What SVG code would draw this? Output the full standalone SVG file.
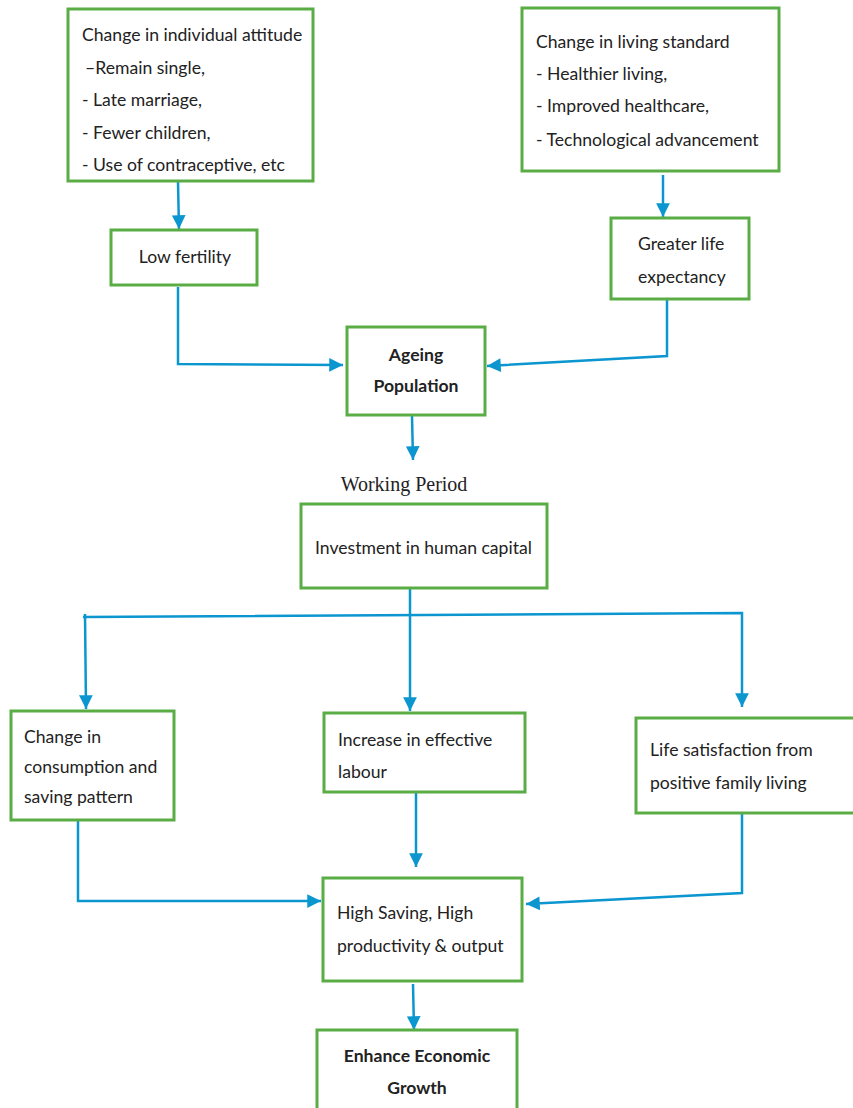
<svg xmlns="http://www.w3.org/2000/svg" width="853" height="1108" viewBox="0 0 853 1108">
<defs>
<style>
.box{fill:#fff;stroke:#5aad45;stroke-width:3}
.t{font-family:Lato,"Liberation Sans",sans-serif;font-size:17.6px;fill:#222}
.b{font-weight:bold}
.w{font-family:"Liberation Serif",serif;font-size:20px;fill:#222}
.c{fill:none;stroke:#0b96d0;stroke-width:2.5}
</style>
<marker id="ah" viewBox="0 0 10 10" refX="10" refY="5" markerWidth="6" markerHeight="5.5" markerUnits="strokeWidth" orient="auto">
<path d="M0,0 L10,5 L0,10 z" fill="#0b96d0"/>
</marker>
</defs>
<rect width="853" height="1108" fill="#fff"/>
<g id="connectors">
<path class="c" d="M178,182 L179,229" marker-end="url(#ah)"/>
<path class="c" d="M663,175 L663,217" marker-end="url(#ah)"/>
<path class="c" d="M178,287 L178,364 L343,365" marker-end="url(#ah)"/>
<path class="c" d="M667,300 L667,356 L487,366" marker-end="url(#ah)"/>
<path class="c" d="M412,416 L413,460" marker-end="url(#ah)"/>
<path class="c" d="M410,589 L410,711" marker-end="url(#ah)"/>
<path class="c" d="M83,617 L742,613 L742,707" marker-end="url(#ah)"/>
<path class="c" d="M85,614 L86,709" marker-end="url(#ah)"/>
<path class="c" d="M78,821 L78,901 L321,901" marker-end="url(#ah)"/>
<path class="c" d="M416,793 L416,867" marker-end="url(#ah)"/>
<path class="c" d="M742,813 L742,893 L526,904" marker-end="url(#ah)"/>
<path class="c" d="M413,984 L414,1030" marker-end="url(#ah)"/>
</g>
<g id="n1"><rect class="box" x="68" y="9" width="245" height="172"/>
<text class="t" x="82" y="41">Change in individual attitude</text>
<text class="t" x="85" y="74">–Remain single,</text>
<text class="t" x="82" y="106">- Late marriage,</text>
<text class="t" x="82" y="139">- Fewer children,</text>
<text class="t" x="82" y="171">- Use of contraceptive, etc</text></g>
<g id="n2"><rect class="box" x="522" y="8" width="257" height="163"/>
<text class="t" x="536" y="48">Change in living standard</text>
<text class="t" x="536" y="80">- Healthier living,</text>
<text class="t" x="536" y="112">- Improved healthcare,</text>
<text class="t" x="536" y="146">- Technological advancement</text></g>
<g id="n3"><rect class="box" x="111" y="230" width="146" height="55"/>
<text class="t" x="185" y="263" text-anchor="middle">Low fertility</text></g>
<g id="n4"><rect class="box" x="611" y="218" width="138" height="81"/>
<text class="t" x="638" y="250">Greater life</text>
<text class="t" x="638" y="283">expectancy</text></g>
<g id="n5"><rect class="box" x="347" y="327" width="138" height="88"/>
<text class="t b" x="416" y="361" text-anchor="middle">Ageing</text>
<text class="t b" x="416" y="392" text-anchor="middle">Population</text></g>
<g id="lbl"><text class="w" x="404" y="491" text-anchor="middle">Working Period</text></g>
<g id="n6"><rect class="box" x="301" y="504" width="246" height="84"/>
<text class="t" x="315" y="554">Investment in human capital</text></g>
<g id="n7"><rect class="box" x="11" y="711" width="163" height="109"/>
<text class="t" x="24" y="743">Change in</text>
<text class="t" x="24" y="773">consumption and</text>
<text class="t" x="24" y="803">saving pattern</text></g>
<g id="n8"><rect class="box" x="324" y="713" width="201" height="79"/>
<text class="t" x="338" y="746">Increase in effective</text>
<text class="t" x="338" y="778">labour</text></g>
<g id="n9"><rect class="box" x="636" y="718" width="220" height="95"/>
<text class="t" x="650" y="756">Life satisfaction from</text>
<text class="t" x="650" y="789">positive family living</text></g>
<g id="n10"><rect class="box" x="323" y="878" width="199" height="103"/>
<text class="t" x="337" y="919">High Saving, High</text>
<text class="t" x="337" y="952">productivity &amp; output</text></g>
<g id="n11"><rect class="box" x="317" y="1030" width="200" height="82"/>
<text class="t b" x="417" y="1062" text-anchor="middle">Enhance Economic</text>
<text class="t b" x="417" y="1094" text-anchor="middle">Growth</text></g>
</svg>
